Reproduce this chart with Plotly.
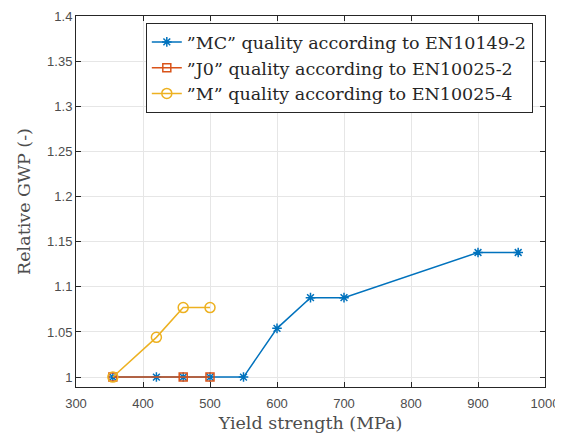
import plotly.graph_objects as go

mc_x = [355, 420, 460, 500, 550, 600, 650, 700, 900, 960]
mc_y = [1.0, 1.0, 1.0, 1.0, 1.0, 1.054, 1.088, 1.088, 1.138, 1.138]
j0_x = [355, 460, 500]
j0_y = [1.0, 1.0, 1.0]
m_x = [355, 420, 460, 500]
m_y = [1.0, 1.044, 1.077, 1.077]

names = ["\u201dMC\u201d quality according to EN10149-2",
         "\u201dJ0\u201d quality according to EN10025-2",
         "\u201dM\u201d quality according to EN10025-4"]
colors = ["#0072BD", "#D95319", "#EDB120"]

fig = go.Figure()
fig.add_trace(go.Scatter(x=mc_x, y=mc_y, mode="lines+markers", name=names[0],
                         line=dict(color=colors[0], width=1.5),
                         marker=dict(symbol="asterisk-open", size=8, color=colors[0],
                                     line=dict(color=colors[0], width=1.5))))
fig.add_trace(go.Scatter(x=j0_x, y=j0_y, mode="lines+markers", name=names[1],
                         line=dict(color=colors[1], width=1.5),
                         marker=dict(symbol="square-open", size=8, color=colors[1],
                                     line=dict(color=colors[1], width=1.5))))
fig.add_trace(go.Scatter(x=m_x, y=m_y, mode="lines+markers", name=names[2],
                         line=dict(color=colors[2], width=1.5),
                         marker=dict(symbol="circle-open", size=10, color=colors[2],
                                     line=dict(color=colors[2], width=1.5))))

axis_common = dict(showline=True, linecolor="#262626", linewidth=1, mirror="ticks",
                   ticks="inside", ticklen=5, tickcolor="#262626", automargin=False,
                   showgrid=True, gridcolor="#e6e6e6", gridwidth=1, zeroline=False,
                   tickfont=dict(family="Liberation Sans, Arial", size=13, color="#4d4d4d"))

serif = "DejaVu Serif, Liberation Serif"

# page body adds an 8px offset, so the figure is sized to 555x425
fig.update_layout(
    width=555, height=425,
    margin=dict(l=68, r=18, t=8, b=46),
    paper_bgcolor="white", plot_bgcolor="white",
    xaxis=dict(range=[300, 1000], dtick=100, tick0=300, ticklabelstandoff=4,
               title=dict(text="Yield strength (MPa)", standoff=8,
                          font=dict(family=serif, size=17.5, color="#4d4d4d")),
               **axis_common),
    yaxis=dict(range=[0.989, 1.4], dtick=0.05, tick0=1.0,
               title=dict(text="Relative GWP (-)", standoff=11,
                          font=dict(family=serif, size=17.5, color="#4d4d4d")),
               **axis_common),
    legend=dict(x=0.974, y=0.981, xanchor="right", yanchor="top",
                bgcolor="white", bordercolor="#262626", borderwidth=1,
                font=dict(family=serif, size=17.5, color="#262626"),
                tracegroupgap=0, itemwidth=30),
    showlegend=True,
)

fig.write_html("out.html")
